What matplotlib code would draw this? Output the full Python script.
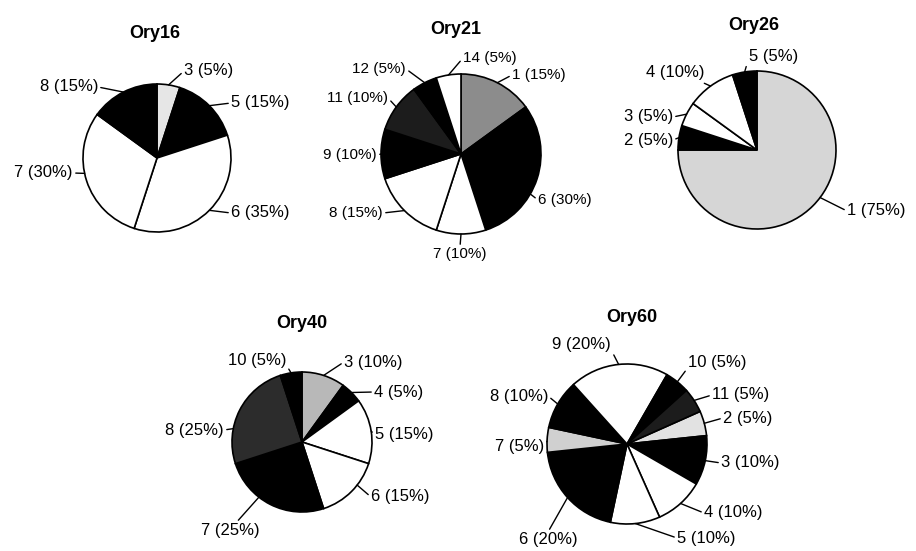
import matplotlib
matplotlib.use('Agg')

import matplotlib.pyplot as plt
import numpy as np

W, H = 916, 551

# group composition (% of isolates) for each sample
ory16_groups = [3, 5, 6, 7, 8]
ory16_pct = [5, 15, 35, 30, 15]

ory21_groups = [1, 6, 7, 8, 9, 11, 12, 14]
ory21_pct = [15, 30, 10, 15, 10, 10, 5, 5]

ory26_groups = [1, 2, 3, 4, 5]
ory26_pct = [75, 5, 5, 10, 5]

ory40_groups = [3, 4, 5, 6, 7, 8, 10]
ory40_pct = [10, 5, 15, 15, 25, 25, 5]

ory60_groups = [2, 3, 4, 5, 6, 7, 8, 9, 10, 11]
ory60_pct = [5, 10, 10, 10, 20, 5, 10, 20, 5, 5]

BLK, WHT = '#000000', '#ffffff'

# pie placement in pixels: centre x, centre y (from top), radius, start angle, title position
# labels: text anchor (px), ha, va, relpos of leader on the text box, attach angle override
pies = [
    dict(title='Ory16', groups=ory16_groups, pct=ory16_pct,
         cx=157, cy=158, r=74, start=90, tpos=(155, 34), fs=12,
         fills=['#e6e6e6', BLK, WHT, WHT, BLK],
         labels=[((184, 71), 'left', 'center', (0, .5), None),
                 ((231, 103), 'left', 'center', (0, .5), None),
                 ((231, 213), 'left', 'center', (0, .5), None),
                 ((73, 173), 'right', 'center', (1, .5), -168),
                 ((98, 87), 'right', 'center', (1, .5), None)]),
    dict(title='Ory21', groups=ory21_groups, pct=ory21_pct,
         cx=461, cy=154, r=80, start=90, tpos=(456, 30), fs=11,
         fills=['#8c8c8c', BLK, WHT, WHT, BLK, '#1c1c1c', BLK, WHT],
         labels=[((512, 75), 'left', 'center', (0, .5), None),
                 ((538, 200), 'left', 'center', (0, .5), -30),
                 ((460, 247), 'center', 'top', (.5, 1), None),
                 ((383, 213), 'right', 'center', (1, .5), None),
                 ((377, 155), 'right', 'center', (1, .5), None),
                 ((388, 98), 'right', 'center', (1, .5), None),
                 ((406, 69), 'right', 'center', (1, .5), None),
                 ((463, 58), 'left', 'center', (0, .5), None)]),
    dict(title='Ory26', groups=ory26_groups, pct=ory26_pct,
         cx=757, cy=150, r=79, start=90, tpos=(754, 25), fs=12,
         fills=['#d6d6d6', BLK, WHT, WHT, BLK],
         labels=[((847, 211), 'left', 'center', (0, .5), -37),
                 ((673, 140), 'right', 'center', (1, .5), None),
                 ((673, 117), 'right', 'center', (1, .5), None),
                 ((704, 73), 'right', 'center', (.9, 0), None),
                 ((749, 57), 'left', 'center', (0, .5), None)]),
    dict(title='Ory40', groups=ory40_groups, pct=ory40_pct,
         cx=302, cy=442, r=70, start=90, tpos=(302, 324), fs=12,
         fills=['#b8b8b8', BLK, WHT, WHT, BLK, '#2c2c2c', BLK],
         labels=[((344, 362), 'left', 'center', (0, .5), None),
                 ((374, 392), 'left', 'center', (0, .5), None),
                 ((375, 435), 'left', 'center', (0, .5), None),
                 ((371, 497), 'left', 'center', (0, .5), -38),
                 ((230, 523), 'center', 'top', (.6, 1), -128),
                 ((224, 430), 'right', 'center', (1, .5), 169),
                 ((286, 360), 'right', 'center', (1, .2), None)]),
    dict(title='Ory60', groups=ory60_groups, pct=ory60_pct,
         cx=627, cy=444, r=80, start=24, tpos=(632, 317), fs=12,
         fills=['#e2e2e2', BLK, WHT, WHT, BLK, '#d0d0d0', BLK, WHT, BLK, '#1c1c1c'],
         labels=[((723, 418), 'left', 'center', (0, .5), None),
                 ((721, 463), 'left', 'center', (0, .5), None),
                 ((704, 513), 'left', 'center', (0, .5), None),
                 ((677, 538), 'left', 'center', (0, .5), None),
                 ((548, 532), 'center', 'top', (.5, 1), None),
                 ((544, 447), 'right', 'center', (1, .5), 178),
                 ((548, 396), 'right', 'center', (1, .5), None),
                 ((611, 345), 'right', 'center', (1, .2), None),
                 ((688, 363), 'left', 'center', (0, .2), None),
                 ((712, 395), 'left', 'center', (0, .5), None)]),
]

plt.rcParams['font.family'] = ['Liberation Sans', 'DejaVu Sans']

fig = plt.figure(figsize=(W / 100, H / 100), dpi=100)
fig.patch.set_facecolor('white')

for p in pies:
    cx, cy, r = p['cx'], p['cy'], p['r']
    ax = fig.add_axes([(cx - r) / W, 1 - (cy + r) / H, 2 * r / W, 2 * r / H])
    wedges, _ = ax.pie(p['pct'], colors=p['fills'], startangle=p['start'],
                       counterclock=False, radius=1,
                       wedgeprops=dict(edgecolor='black', linewidth=1.2))
    ax.set_xlim(-1, 1)
    ax.set_ylim(-1, 1)
    ax.axis('off')

    for w, g, v, lab in zip(wedges, p['groups'], p['pct'], p['labels']):
        (tx, ty), ha, va, rel, attach = lab
        ang = np.deg2rad(attach if attach is not None else (w.theta1 + w.theta2) / 2)
        ax.annotate(f'{g} ({v}%)', xy=(np.cos(ang), np.sin(ang)), xycoords='data',
                    xytext=(tx, H - ty), textcoords='figure pixels',
                    ha=ha, va=va, fontsize=p['fs'], annotation_clip=False,
                    arrowprops=dict(arrowstyle='-', color='black', lw=1.0,
                                    relpos=rel, shrinkA=0, shrinkB=0))

    tx, ty = p['tpos']
    fig.text(tx / W, 1 - ty / H, p['title'], ha='center', va='center',
             fontsize=13, fontweight='bold')

fig.savefig('out.png', dpi=100)
